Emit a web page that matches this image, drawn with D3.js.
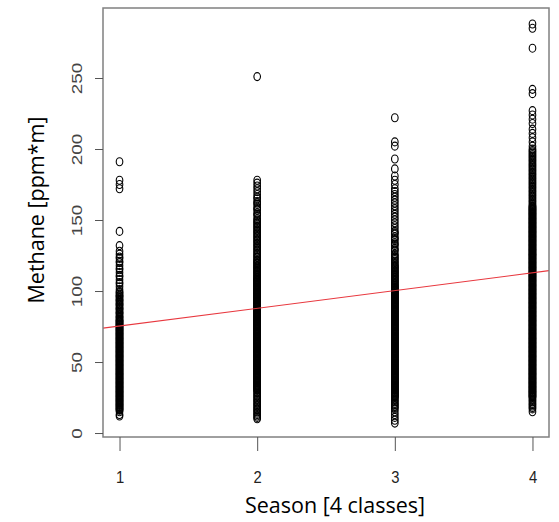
<!DOCTYPE html>
<html>
<head>
<meta charset="utf-8">
<script src="https://cdn.jsdelivr.net/npm/d3@7"></script>
<style>
  body { margin: 0; background: #fff; }
</style>
</head>
<body>
<div id="chart"></div>
<script>
// methane readings per season class

var seasons = [1, 2, 3, 4];
var xTicks = [1, 2, 3, 4];
var yTicks = [0, 50, 100, 150, 200, 250];

var season1 = [191, 178, 175, 172, 142, 132, 128, 126, 124, 123, 121, 120, 118, 116, 115, 113,
  111, 110, 108, 106, 105, 103, 101, 99, 98, 97, 96, 95, 94, 93, 92, 91, 90, 89, 88, 87, 86,
  85, 84, 83, 82, 81, 80,
  79, 78, 77, 76, 75, 74, 73, 72, 71, 70,
  69, 68, 67, 66, 65, 64, 63, 62, 61, 60,
  59, 58, 57, 56, 55, 54, 53, 52, 51, 50,
  49, 48, 47, 46, 45, 44, 43, 42, 41, 40,
  39, 38, 37, 36, 35, 34, 33, 32, 31, 30,
  29, 28, 27, 26, 25, 24, 23, 22, 21, 20,
  19, 18, 17, 16, 15, 13, 12];
// second reading group in the solid part of the column
var season1Core = [99.5, 96.5, 93.5, 90.5, 87.5, 84.5, 81.5,
  79.5, 78.5, 77.5, 76.5, 75.5, 74.5, 73.5, 72.5, 71.5, 70.5,
  69.5, 68.5, 67.5, 66.5, 65.5, 64.5, 63.5, 62.5, 61.5, 60.5,
  59.5, 58.5, 57.5, 56.5, 55.5, 54.5, 53.5, 52.5, 51.5, 50.5,
  49.5, 48.5, 47.5, 46.5, 45.5, 44.5, 43.5, 42.5, 41.5, 40.5,
  39.5, 38.5, 37.5, 36.5, 35.5, 34.5, 33.5, 32.5, 31.5, 30.5,
  29.5, 28.5, 27.5, 26.5, 25.5, 24.5, 23.5, 22.5, 21.5, 20.5,
  19.5, 18.5, 17.5, 16.5];

var season2 = [251, 178, 176, 174, 172, 170, 168, 166, 165, 163, 161, 159, 157, 155, 153, 151,
  149, 147, 145, 143, 141, 139, 137, 135, 133, 131, 129, 127, 125, 124, 122, 121, 120, 119, 118,
  117, 116, 115, 114, 113, 112, 111, 110,
  109, 108, 107, 106, 105, 104, 103, 102, 101, 100,
  99, 98, 97, 96, 95, 94, 93, 92, 91, 90,
  89, 88, 87, 86, 85, 84, 83, 82, 81, 80,
  79, 78, 77, 76, 75, 74, 73, 72, 71, 70,
  69, 68, 67, 66, 65, 64, 63, 62, 61, 60,
  59, 58, 57, 56, 55, 54, 53, 52, 51, 50,
  49, 48, 47, 46, 45, 44, 43, 42, 41, 40,
  39, 38, 37, 36, 35, 34, 33, 32, 31, 30,
  28, 26, 24, 22, 20, 18, 15, 13, 11, 10];
var season2Core = [162, 158, 154, 150, 148, 146, 144, 142, 140, 138, 136, 134, 132, 130, 128, 126,
  123.5, 121.5, 119.5, 117.5, 115.5, 113.5, 111.5,
  109.5, 108.5, 107.5, 106.5, 105.5, 104.5, 103.5, 102.5, 101.5, 100.5,
  99.5, 98.5, 97.5, 96.5, 95.5, 94.5, 93.5, 92.5, 91.5, 90.5,
  89.5, 88.5, 87.5, 86.5, 85.5, 84.5, 83.5, 82.5, 81.5, 80.5,
  79.5, 78.5, 77.5, 76.5, 75.5, 74.5, 73.5, 72.5, 71.5, 70.5,
  69.5, 68.5, 67.5, 66.5, 65.5, 64.5, 63.5, 62.5, 61.5, 60.5,
  59.5, 58.5, 57.5, 56.5, 55.5, 54.5, 53.5, 52.5, 51.5, 50.5,
  49.5, 48.5, 47.5, 46.5, 45.5, 44.5, 43.5, 42.5, 41.5, 40.5,
  39.5, 38.5, 37.5, 36.5, 35.5, 34.5, 33.5, 32.5, 31.5, 30.5,
  29, 27, 25, 23, 21, 19, 17, 16, 14, 12];

var season3 = [222, 205, 202, 193, 186, 181, 178, 175, 172, 170, 168, 166, 164, 162, 160, 158,
  156, 154, 152, 150, 148, 146, 144, 142, 140, 138, 136, 134, 132, 130, 128, 126, 124, 122,
  120, 118, 117, 116, 115, 114, 113, 112, 111, 110, 109, 108, 107, 106, 105, 104, 103,
  102, 101, 100,
  99, 98, 97, 96, 95, 94, 93, 92, 91, 90,
  89, 88, 87, 86, 85, 84, 83, 82, 81, 80,
  79, 78, 77, 76, 75, 74, 73, 72, 71, 70,
  69, 68, 67, 66, 65, 64, 63, 62, 61, 60,
  59, 58, 57, 56, 55, 54, 53, 52, 51, 50,
  49, 48, 47, 46, 45, 44, 43, 42, 41, 40,
  39, 38, 37, 36, 35, 34, 33, 32, 31, 30,
  29, 28, 27, 26, 25, 23, 21, 19, 17, 15, 13, 11, 9, 7];
var season3Core = [141, 137, 133, 129, 125, 123, 121, 119,
  117.5, 115.5, 113.5, 111.5, 109.5, 107.5, 105.5, 103.5,
  102.5, 101.5, 100.5,
  99.5, 98.5, 97.5, 96.5, 95.5, 94.5, 93.5, 92.5, 91.5, 90.5,
  89.5, 88.5, 87.5, 86.5, 85.5, 84.5, 83.5, 82.5, 81.5, 80.5,
  79.5, 78.5, 77.5, 76.5, 75.5, 74.5, 73.5, 72.5, 71.5, 70.5,
  69.5, 68.5, 67.5, 66.5, 65.5, 64.5, 63.5, 62.5, 61.5, 60.5,
  59.5, 58.5, 57.5, 56.5, 55.5, 54.5, 53.5, 52.5, 51.5, 50.5,
  49.5, 48.5, 47.5, 46.5, 45.5, 44.5, 43.5, 42.5, 41.5, 40.5,
  39.5, 38.5, 37.5, 36.5, 35.5, 34.5, 33.5, 32.5, 31.5, 30.5,
  29.5, 28.5, 27.5, 26.5, 25.5, 24, 22, 20, 18];

var season4 = [288, 285, 271, 242, 239, 227, 224, 221, 218, 214, 211, 208, 205, 202, 200,
  198, 196, 194, 192, 190, 188, 186, 185, 183, 181, 180, 178, 176, 175, 173, 172, 170,
  169, 167, 166, 164, 163, 161, 160,
  159, 158, 157, 156, 155, 154, 153, 152, 151, 150,
  149, 148, 147, 146, 145, 144, 143, 142, 141, 140,
  139, 138, 137, 136, 135, 134, 133, 132, 131, 130,
  129, 128, 127, 126, 125, 124, 123, 122, 121, 120,
  119, 118, 117, 116, 115, 114, 113, 112, 111, 110,
  109, 108, 107, 106, 105, 104, 103, 102, 101, 100,
  99, 98, 97, 96, 95, 94, 93, 92, 91, 90,
  89, 88, 87, 86, 85, 84, 83, 82, 81, 80,
  79, 78, 77, 76, 75, 74, 73, 72, 71, 70,
  69, 68, 67, 66, 65, 64, 63, 62, 61, 60,
  59, 58, 57, 56, 55, 54, 53, 52, 51, 50,
  49, 48, 47, 46, 45, 44, 43, 42, 41, 40,
  39, 38, 37, 36, 35, 34, 33, 32, 31, 30,
  29, 28, 27, 26, 25, 23, 21, 19, 17, 15];
var season4Core = [199, 197, 195, 193, 191, 189, 187, 184, 182, 179, 177, 174, 171, 168, 165, 162,
  159.5, 158.5, 157.5, 156.5, 155.5, 154.5, 153.5, 152.5, 151.5, 150.5,
  149.5, 148.5, 147.5, 146.5, 145.5, 144.5, 143.5, 142.5, 141.5, 140.5,
  139.5, 138.5, 137.5, 136.5, 135.5, 134.5, 133.5, 132.5, 131.5, 130.5,
  129.5, 128.5, 127.5, 126.5, 125.5, 124.5, 123.5, 122.5, 121.5, 120.5,
  119.5, 118.5, 117.5, 116.5, 115.5, 114.5, 113.5, 112.5, 111.5, 110.5,
  109.5, 108.5, 107.5, 106.5, 105.5, 104.5, 103.5, 102.5, 101.5, 100.5,
  99.5, 98.5, 97.5, 96.5, 95.5, 94.5, 93.5, 92.5, 91.5, 90.5,
  89.5, 88.5, 87.5, 86.5, 85.5, 84.5, 83.5, 82.5, 81.5, 80.5,
  79.5, 78.5, 77.5, 76.5, 75.5, 74.5, 73.5, 72.5, 71.5, 70.5,
  69.5, 68.5, 67.5, 66.5, 65.5, 64.5, 63.5, 62.5, 61.5, 60.5,
  59.5, 58.5, 57.5, 56.5, 55.5, 54.5, 53.5, 52.5, 51.5, 50.5,
  49.5, 48.5, 47.5, 46.5, 45.5, 44.5, 43.5, 42.5, 41.5, 40.5,
  39.5, 38.5, 37.5, 36.5, 35.5, 34.5, 33.5, 32.5, 31.5, 30.5,
  29.5, 28.5, 27.5, 26.5, 25.5, 24, 22, 20, 18];

// linear fit (red line)
var fitIntercept = 62.8;
var fitSlope = 12.5;

var width = 559, height = 522;

var svg = d3.select("#chart").append("svg")
    .attr("width", width)
    .attr("height", height);

var x = d3.scaleLinear().domain([0.88, 4.12]).range([103, 549]);
var y = d3.scaleLinear().domain([-2.8, 299.3]).range([437, 8]);

// points
var seriesList = [season1.concat(season1Core), season2.concat(season2Core),
                  season3.concat(season3Core), season4.concat(season4Core)];
var points = [];
seriesList.forEach(function(vals, i) {
    vals.forEach(function(v) {
        points.push({season: seasons[i], value: v});
    });
});

svg.append("g").selectAll("ellipse").data(points).enter().append("ellipse")
    .attr("cx", function(d) { return x(d.season); })
    .attr("cy", function(d) { return y(d.value); })
    .attr("rx", 3.3)
    .attr("ry", 4)
    .attr("fill", "none")
    .attr("stroke", "#000")
    .attr("stroke-width", 1.1);

// fit line, clipped to plot box
svg.append("clipPath").attr("id", "plotclip")
  .append("rect")
    .attr("x", x.range()[0]).attr("y", y.range()[1])
    .attr("width", x.range()[1] - x.range()[0])
    .attr("height", y.range()[0] - y.range()[1]);

var xd = x.domain();
svg.append("line")
    .attr("clip-path", "url(#plotclip)")
    .attr("x1", x(xd[0]))
    .attr("y1", y(fitIntercept + fitSlope * xd[0]))
    .attr("x2", x(xd[1]))
    .attr("y2", y(fitIntercept + fitSlope * xd[1]))
    .attr("stroke", "#e8383f")
    .attr("stroke-width", 1.2);

// box
svg.append("rect")
    .attr("x", x.range()[0]).attr("y", y.range()[1])
    .attr("width", x.range()[1] - x.range()[0])
    .attr("height", y.range()[0] - y.range()[1])
    .attr("fill", "none")
    .attr("stroke", "#808080")
    .attr("stroke-width", 1.5);

// axes
var xAxis = svg.append("g")
    .attr("transform", "translate(0," + y.range()[0] + ")")
    .call(d3.axisBottom(x).tickValues(xTicks).tickFormat(d3.format("d"))
            .tickSize(14).tickSizeOuter(0));
xAxis.select(".domain").remove();
xAxis.selectAll("line").attr("stroke", "#555");
xAxis.selectAll("text")
    .attr("y", 0).attr("dy", 0)
    .attr("transform", "translate(0,46) scale(0.87,1)")
    .attr("font-family", "Liberation Sans, Arial, sans-serif")
    .attr("font-size", 17)
    .attr("fill", "#222");

var yAxis = svg.append("g")
    .attr("transform", "translate(" + x.range()[0] + ",0)")
    .call(d3.axisLeft(y).tickValues(yTicks).tickSize(8).tickSizeOuter(0));
yAxis.select(".domain").remove();
yAxis.selectAll("line").attr("stroke", "#555");
yAxis.selectAll("text")
    .attr("x", 0).attr("dy", 0)
    .attr("text-anchor", "middle")
    .attr("transform", "translate(-21,0) rotate(-90) scale(1.35,1)")
    .attr("font-family", "Liberation Sans, Arial, sans-serif")
    .attr("font-size", 14)
    .attr("fill", "#444");

// titles
svg.append("text")
    .attr("x", 335)
    .attr("y", 513)
    .attr("text-anchor", "middle")
    .attr("font-family", "Open Sans, sans-serif")
    .attr("font-size", 21.5)
    .attr("fill", "#000")
    .text("Season [4 classes]");

svg.append("text")
    .attr("transform", "translate(44,210) rotate(-90)")
    .attr("text-anchor", "middle")
    .attr("font-family", "Open Sans, sans-serif")
    .attr("font-size", 21.5)
    .attr("fill", "#000")
    .text("Methane [ppm*m]");
</script>
</body>
</html>
